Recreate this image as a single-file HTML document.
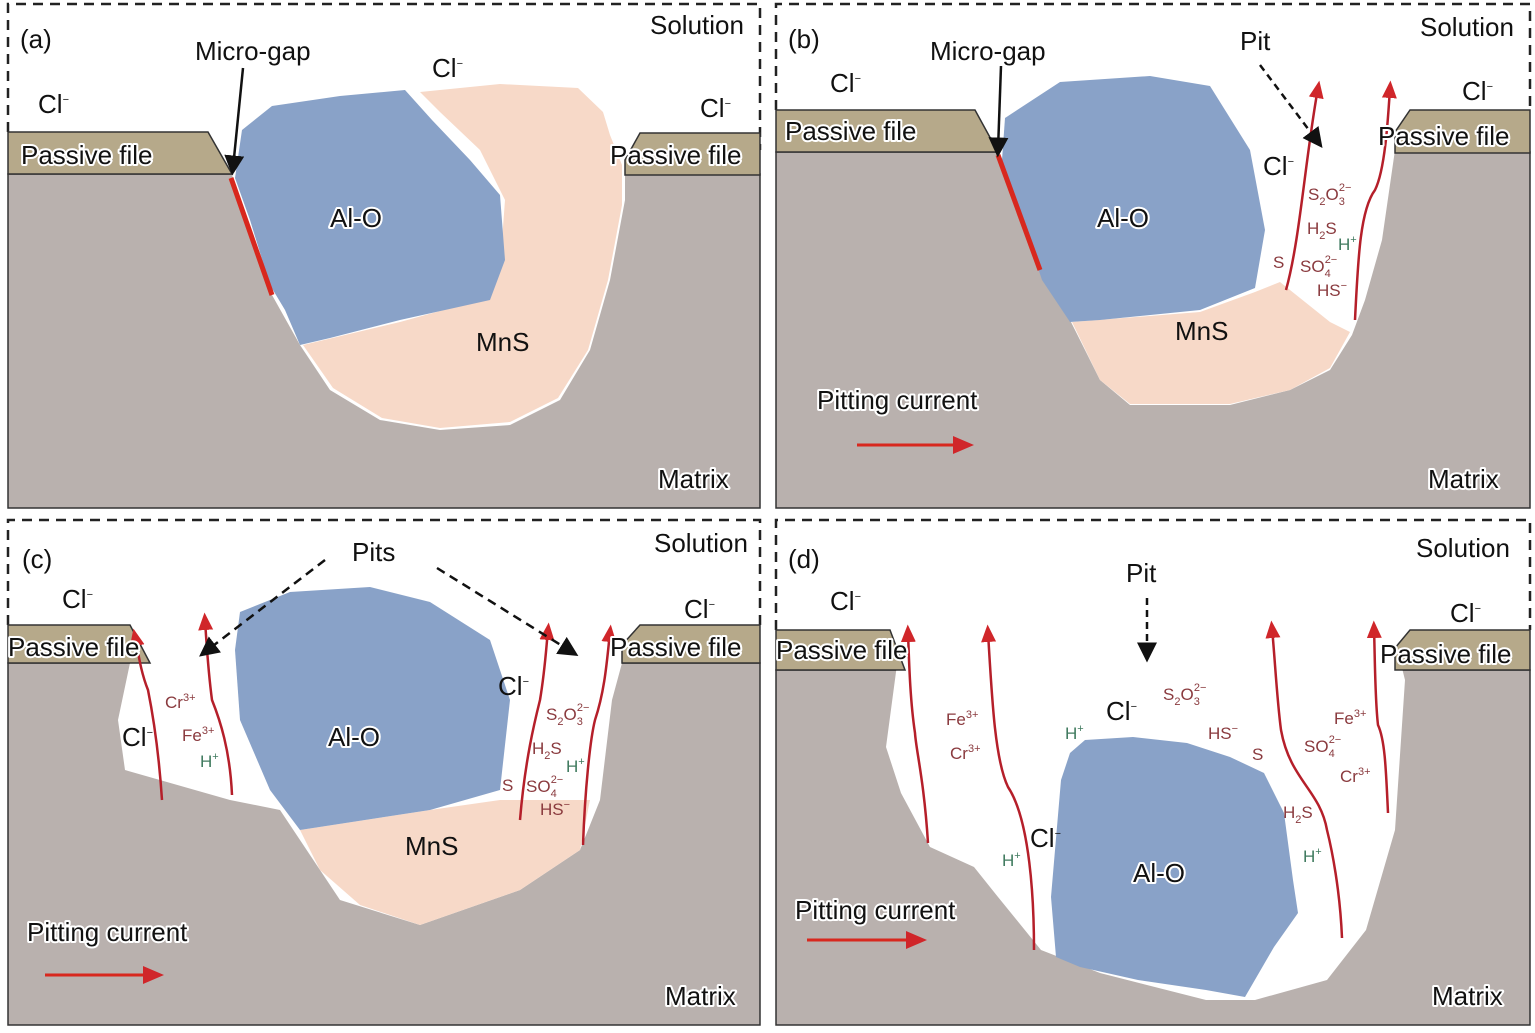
<!DOCTYPE html>
<html><head><meta charset="utf-8"><style>
html,body{margin:0;padding:0;background:#fff}
svg{display:block}
text{font-family:"Liberation Sans",sans-serif}
.h{paint-order:stroke;stroke:#fff;stroke-width:4px;stroke-linejoin:round;fill:#111;font-size:26px}
.t{fill:#111;font-size:26px}
.i{fill:#8a3a3e;font-size:17px}
.g{fill:#3f7a5e;font-size:17px}
.s{font-size:11px}
</style></head><body>
<svg width="1535" height="1033" viewBox="0 0 1535 1033" xmlns="http://www.w3.org/2000/svg">
<defs>
<marker id="ar" markerWidth="8" markerHeight="8" refX="4" refY="4" orient="auto"><path d="M0,1 L7,4 L0,7 z" fill="#d0262a"/></marker>
<marker id="ak" markerWidth="8" markerHeight="8" refX="5" refY="4" orient="auto"><path d="M0,0 L8,4 L0,8 z" fill="#111"/></marker>
</defs>
<g stroke="#222" stroke-width="2.5" fill="none" stroke-dasharray="10,7">
<path d="M8,132 V4 H760 V150"/>
<path d="M776,110 V4 H1530 V110"/>
<path d="M8,625 V520 H760 V625"/>
<path d="M776,630 V520 H1530 V630"/>
</g>

<!-- Panel a -->
<rect x="8" y="174" width="752" height="334" fill="#b9b1ae" stroke="#333" stroke-width="1.5"/>
<path d="M232,175 L272,295 L300,345 L330,390 L380,420 L440,430 L510,425 L560,400 L590,350 L610,280 L625,200 L625,170 L610,130 L600,100 L560,82 L480,80 L420,88 L300,95 L245,125 Z" fill="#fff"/>
<path d="M420,92 L500,84 L578,88 L603,112 L610,135 L622,165 L622,205 L608,280 L588,350 L558,398 L510,422 L440,428 L382,418 L333,388 L303,345 L400,322 L480,300 L500,268 L505,200 L480,150 L440,112 Z" fill="#f7d9c8"/>
<path d="M242,130 L272,106 L340,96 L405,90 L432,120 L470,160 L500,195 L505,260 L490,300 L400,320 L330,338 L300,345 L285,310 L270,285 L250,220 L235,178 Z" fill="#89a2c8"/>
<path d="M231,178 L272,295" stroke="#d8281e" stroke-width="5"/>
<path d="M8,132 H208 L232,174 H8 Z" fill="#b6a98a" stroke="#333" stroke-width="1.5"/>
<path d="M640,133 H760 V175 H625 L625,160 Z" fill="#b6a98a" stroke="#333" stroke-width="1.5"/>
<path d="M243,68 L233,168" stroke="#111" stroke-width="2.5" marker-end="url(#ak)"/>
<text x="20" y="48" class="t" font-size="24">(a)</text>
<text x="195" y="60" class="t">Micro-gap</text>
<text x="650" y="34" class="t">Solution</text>
<text x="38" y="113" class="t">Cl<tspan dy="-10" class="s">−</tspan></text>
<text x="432" y="77" class="t">Cl<tspan dy="-10" class="s">−</tspan></text>
<text x="700" y="117" class="t">Cl<tspan dy="-10" class="s">−</tspan></text>
<text x="21" y="164" class="h">Passive file</text>
<text x="610" y="164" class="h">Passive file</text>
<text x="330" y="227" class="h">Al-O</text>
<text x="476" y="351" class="t">MnS</text>
<text x="658" y="488" class="h">Matrix</text>

<!-- Panel b -->
<rect x="776" y="152" width="754" height="356" fill="#b9b1ae" stroke="#333" stroke-width="1.5"/>
<path d="M998,152 L1040,270 L1060,300 L1100,380 L1130,405 L1230,405 L1290,390 L1330,370 L1352,335 L1365,300 L1382,240 L1395,150 L1390,120 L1300,100 L1250,110 L1210,80 L1150,72 L1060,78 L1010,110 Z" fill="#fff"/>
<path d="M1072,322 L1200,312 L1255,292 L1280,282 L1330,322 L1350,332 L1330,368 L1290,390 L1230,404 L1130,404 L1100,380 Z" fill="#f7d9c8"/>
<path d="M1005,118 L1060,82 L1150,76 L1210,86 L1250,150 L1265,230 L1255,288 L1200,310 L1100,320 L1070,322 L1042,280 L1002,160 Z" fill="#89a2c8"/>
<path d="M998,155 L1040,270" stroke="#d8281e" stroke-width="5"/>
<path d="M776,110 H975 L998,152 H776 Z" fill="#b6a98a" stroke="#333" stroke-width="1.5"/>
<path d="M1410,110 H1530 V153 H1395 V132 Z" fill="#b6a98a" stroke="#333" stroke-width="1.5"/>
<path d="M1286,290 C1300,240 1305,160 1318,88" stroke="#b51f2a" stroke-width="2.5" fill="none" marker-end="url(#ar)"/>
<path d="M1355,320 C1358,260 1360,210 1375,190 C1385,170 1388,120 1390,88" stroke="#b51f2a" stroke-width="2.5" fill="none" marker-end="url(#ar)"/>
<path d="M1001,66 L998,150" stroke="#111" stroke-width="2.5" marker-end="url(#ak)"/>
<path d="M1260,65 L1318,142" stroke="#111" stroke-width="2.5" stroke-dasharray="7,5" marker-end="url(#ak)"/>
<text x="788" y="48" class="t" font-size="24">(b)</text>
<text x="930" y="60" class="t">Micro-gap</text>
<text x="1240" y="50" class="t">Pit</text>
<text x="1420" y="36" class="t">Solution</text>
<text x="830" y="92" class="t">Cl<tspan dy="-10" class="s">−</tspan></text>
<text x="1462" y="100" class="t">Cl<tspan dy="-10" class="s">−</tspan></text>
<text x="1263" y="175" class="t">Cl<tspan dy="-10" class="s">−</tspan></text>
<text x="785" y="140" class="h">Passive file</text>
<text x="1378" y="145" class="h">Passive file</text>
<text x="1097" y="227" class="h">Al-O</text>
<text x="1175" y="340" class="t">MnS</text>
<text x="1308" y="200" class="i">S<tspan dy="5" class="s">2</tspan><tspan dy="-5">O</tspan><tspan dy="5" class="s">3</tspan><tspan dy="-14" dx="-6" class="s">2−</tspan></text>
<text x="1307" y="234" class="i">H<tspan dy="5" class="s">2</tspan><tspan dy="-5">S</tspan></text>
<text x="1338" y="250" class="g">H<tspan dy="-7" class="s">+</tspan></text>
<text x="1273" y="268" class="i">S</text>
<text x="1300" y="272" class="i">SO<tspan dy="5" class="s">4</tspan><tspan dy="-14" dx="-6" class="s">2−</tspan></text>
<text x="1317" y="296" class="i">HS<tspan dy="-7" class="s">−</tspan></text>
<text x="817" y="409" class="h">Pitting current</text>
<path d="M857,445 H965" stroke="#d8281e" stroke-width="3" marker-end="url(#ar)"/>
<text x="1428" y="488" class="h">Matrix</text>

<!-- Panel c -->
<rect x="8" y="663" width="752" height="362" fill="#b9b1ae" stroke="#333" stroke-width="1.5"/>
<path d="M130,663 L118,720 L125,770 L230,800 L280,810 L300,840 L340,900 L420,925 L520,890 L580,850 L600,800 L612,700 L622,663 L600,620 L540,600 L480,590 L300,585 L200,620 Z" fill="#fff"/>
<path d="M300,830 L430,810 L500,800 L590,800 L580,850 L520,890 L420,925 L360,905 L320,870 Z" fill="#f7d9c8"/>
<path d="M240,612 L290,592 L370,587 L430,602 L490,640 L510,700 L500,790 L430,810 L300,830 L270,790 L240,720 L235,650 Z" fill="#89a2c8"/>
<path d="M8,625 H130 L150,663 H8 Z" fill="#b6a98a" stroke="#333" stroke-width="1.5"/>
<path d="M640,625 H760 V663 H622 V645 Z" fill="#b6a98a" stroke="#333" stroke-width="1.5"/>
<path d="M162,800 C158,740 150,700 148,690 C140,670 138,650 135,636" stroke="#b51f2a" stroke-width="2.5" fill="none" marker-end="url(#ar)"/>
<path d="M232,795 C230,750 220,720 212,700 C208,670 207,650 205,620" stroke="#b51f2a" stroke-width="2.5" fill="none" marker-end="url(#ar)"/>
<path d="M520,820 C525,760 535,720 540,700 C545,670 546,650 548,630" stroke="#b51f2a" stroke-width="2.5" fill="none" marker-end="url(#ar)"/>
<path d="M583,845 C585,790 590,740 595,720 C605,690 607,660 610,632" stroke="#b51f2a" stroke-width="2.5" fill="none" marker-end="url(#ar)"/>
<path d="M325,560 L205,652" stroke="#111" stroke-width="2.5" stroke-dasharray="9,6" marker-end="url(#ak)"/>
<path d="M437,568 L572,652" stroke="#111" stroke-width="2.5" stroke-dasharray="9,6" marker-end="url(#ak)"/>
<text x="22" y="568" class="t" font-size="24">(c)</text>
<text x="352" y="561" class="t">Pits</text>
<text x="654" y="552" class="t">Solution</text>
<text x="62" y="608" class="t">Cl<tspan dy="-10" class="s">−</tspan></text>
<text x="684" y="618" class="t">Cl<tspan dy="-10" class="s">−</tspan></text>
<text x="122" y="746" class="t">Cl<tspan dy="-10" class="s">−</tspan></text>
<text x="498" y="695" class="t">Cl<tspan dy="-10" class="s">−</tspan></text>
<text x="8" y="656" class="h">Passive file</text>
<text x="610" y="656" class="h">Passive file</text>
<text x="328" y="746" class="h">Al-O</text>
<text x="405" y="855" class="t">MnS</text>
<text x="165" y="708" class="i">Cr<tspan dy="-7" class="s">3+</tspan></text>
<text x="182" y="741" class="i">Fe<tspan dy="-7" class="s">3+</tspan></text>
<text x="200" y="767" class="g">H<tspan dy="-7" class="s">+</tspan></text>
<text x="546" y="720" class="i">S<tspan dy="5" class="s">2</tspan><tspan dy="-5">O</tspan><tspan dy="5" class="s">3</tspan><tspan dy="-14" dx="-6" class="s">2−</tspan></text>
<text x="532" y="754" class="i">H<tspan dy="5" class="s">2</tspan><tspan dy="-5">S</tspan></text>
<text x="566" y="772" class="g">H<tspan dy="-7" class="s">+</tspan></text>
<text x="502" y="791" class="i">S</text>
<text x="526" y="792" class="i">SO<tspan dy="5" class="s">4</tspan><tspan dy="-14" dx="-6" class="s">2−</tspan></text>
<text x="540" y="815" class="i">HS<tspan dy="-7" class="s">−</tspan></text>
<text x="27" y="941" class="h">Pitting current</text>
<path d="M45,975 H155" stroke="#d8281e" stroke-width="3" marker-end="url(#ar)"/>
<text x="665" y="1005" class="h">Matrix</text>

<!-- Panel d -->
<rect x="776" y="670" width="754" height="355" fill="#b9b1ae" stroke="#333" stroke-width="1.5"/>
<path d="M896,672 L886,747 L901,793 L930,847 L974,867 L998,897 L1041,950 L1100,973 L1206,1000 L1255,1000 L1327,980 L1366,930 L1395,830 L1405,680 L1395,640 L900,640 Z" fill="#fff"/>
<path d="M1070,753 L1085,740 L1133,737 L1187,743 L1230,757 L1264,773 L1284,813 L1293,880 L1298,913 L1274,947 L1245,997 L1206,990 L1138,980 L1080,967 L1056,957 L1051,897 L1061,780 Z" fill="#89a2c8"/>
<path d="M776,630 H890 L905,670 H776 Z" fill="#b6a98a" stroke="#333" stroke-width="1.5"/>
<path d="M1410,630 H1530 V670 H1395 V648 Z" fill="#b6a98a" stroke="#333" stroke-width="1.5"/>
<path d="M928,843 C924,780 916,750 915,733 C910,700 909,660 908,632" stroke="#b51f2a" stroke-width="2.5" fill="none" marker-end="url(#ar)"/>
<path d="M1034,950 C1034,900 1030,820 1008,787 C995,760 992,700 988,632" stroke="#b51f2a" stroke-width="2.5" fill="none" marker-end="url(#ar)"/>
<path d="M1342,938 C1340,890 1332,850 1327,830 C1320,790 1290,780 1281,730 C1277,700 1275,660 1272,628" stroke="#b51f2a" stroke-width="2.5" fill="none" marker-end="url(#ar)"/>
<path d="M1388,813 C1386,770 1385,740 1378,725 C1375,700 1375,660 1374,628" stroke="#b51f2a" stroke-width="2.5" fill="none" marker-end="url(#ar)"/>
<path d="M1147,598 V655" stroke="#111" stroke-width="2.5" stroke-dasharray="7,5" marker-end="url(#ak)"/>
<text x="788" y="568" class="t" font-size="24">(d)</text>
<text x="1126" y="582" class="t">Pit</text>
<text x="1416" y="557" class="t">Solution</text>
<text x="830" y="610" class="t">Cl<tspan dy="-10" class="s">−</tspan></text>
<text x="1450" y="622" class="t">Cl<tspan dy="-10" class="s">−</tspan></text>
<text x="1106" y="720" class="t">Cl<tspan dy="-10" class="s">−</tspan></text>
<text x="1030" y="847" class="t">Cl<tspan dy="-10" class="s">−</tspan></text>
<text x="776" y="659" class="h">Passive file</text>
<text x="1380" y="663" class="h">Passive file</text>
<text x="1133" y="882" class="h">Al-O</text>
<text x="946" y="725" class="i">Fe<tspan dy="-7" class="s">3+</tspan></text>
<text x="950" y="759" class="i">Cr<tspan dy="-7" class="s">3+</tspan></text>
<text x="1065" y="739" class="g">H<tspan dy="-7" class="s">+</tspan></text>
<text x="1002" y="866" class="g">H<tspan dy="-7" class="s">+</tspan></text>
<text x="1163" y="700" class="i">S<tspan dy="5" class="s">2</tspan><tspan dy="-5">O</tspan><tspan dy="5" class="s">3</tspan><tspan dy="-14" dx="-6" class="s">2−</tspan></text>
<text x="1208" y="739" class="i">HS<tspan dy="-7" class="s">−</tspan></text>
<text x="1252" y="760" class="i">S</text>
<text x="1304" y="752" class="i">SO<tspan dy="5" class="s">4</tspan><tspan dy="-14" dx="-6" class="s">2−</tspan></text>
<text x="1334" y="724" class="i">Fe<tspan dy="-7" class="s">3+</tspan></text>
<text x="1340" y="782" class="i">Cr<tspan dy="-7" class="s">3+</tspan></text>
<text x="1283" y="818" class="i">H<tspan dy="5" class="s">2</tspan><tspan dy="-5">S</tspan></text>
<text x="1303" y="862" class="g">H<tspan dy="-7" class="s">+</tspan></text>
<text x="795" y="919" class="h">Pitting current</text>
<path d="M807,940 H918" stroke="#d8281e" stroke-width="3" marker-end="url(#ar)"/>
<text x="1432" y="1005" class="h">Matrix</text>
</svg>
</body></html>
